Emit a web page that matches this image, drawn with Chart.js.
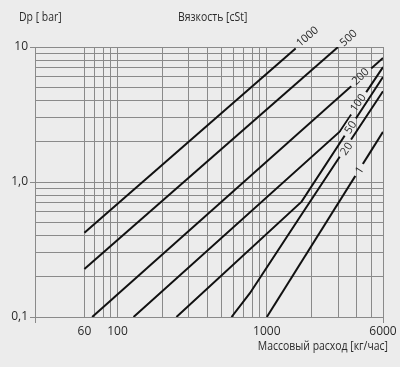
<!DOCTYPE html>
<html>
<head>
<meta charset="utf-8">
<script src="https://cdn.jsdelivr.net/npm/chart.js@4.4.0/dist/chart.umd.min.js"></script>
<style>
  html, body { margin: 0; padding: 0; background: #ececec; }
  #wrap { width: 400px; height: 367px; }
</style>
</head>
<body>
<div id="wrap"><canvas id="grafico" width="400" height="367"></canvas></div>
<script>
// Datos: caudal masico [kg/h] y caida de presion [bar] por viscosidad [cSt]
const viscosidades = ['1000', '500', '200', '100', '50', '20', '1'];

const caudal1000 = [60, 1600];
const dp1000 = [0.42, 10];
const caudal500 = [60, 3000];
const dp500 = [0.227, 10];
const caudal200 = [67.6, 6000];
const dp200 = [0.1, 8.3];
const caudal100 = [128, 3090, 6000];
const dp100 = [0.1, 2.37, 7.1];
const caudal50 = [248, 1710, 6000];
const dp50 = [0.1, 0.715, 6.0];
const caudal20 = [580, 770, 1670, 6000];
const dp20 = [0.1, 0.15, 0.553, 4.7];
const caudal1 = [1000, 6000];
const dp1 = [0.1, 2.35];

const ticksX = [28, 60, 70, 80, 90, 100, 200, 300, 400, 500, 600, 700, 800, 900, 1000, 2000, 3000, 4000, 5000, 6000];
const etiquetasX = { 60: '60', 100: '100', 1000: '1000', 6000: '6000' };
const ticksY = [0.1, 0.2, 0.3, 0.4, 0.5, 0.6, 0.7, 0.8, 0.9, 1, 2, 3, 4, 5, 6, 7, 8, 9, 10];
const etiquetasY = { 0.1: '0,1', 1: '1,0', 10: '10' };

const tituloY = 'Dp [ bar]';
const tituloLeyenda = 'Вязкость [cSt]';
const tituloX = 'Массовый расход [кг/час]';

const fondo = '#ececec';
const colorGrid = '#8a8a8a';
const colorTexto = '#2a2a2a';
const fuente = '"Open Sans", sans-serif';

function puntos(xs, ys) {
    return xs.map((x, i) => ({ x: x, y: ys[i] }));
}

const series = [
    puntos(caudal1000, dp1000),
    puntos(caudal500, dp500),
    puntos(caudal200, dp200),
    puntos(caudal100, dp100),
    puntos(caudal50, dp50),
    puntos(caudal20, dp20),
    puntos(caudal1, dp1)
];

// ubicacion de los rotulos de cada curva (valor x, valor y, angulo)
const rotulos = [
    { x: 1854, y: 12.06, ang: -40 },
    { x: 3497, y: 11.76, ang: -42 },
    { x: 4207, y: 6.1, ang: -43 },
    { x: 4049, y: 3.88, ang: -55 },
    { x: 3606, y: 2.56, ang: -57 },
    { x: 3388, y: 1.77, ang: -56 },
    { x: 4145, y: 1.23, ang: -58 }
];

function cajasRotulos(chart) {
    const ctx = chart.ctx;
    ctx.font = '11px ' + fuente;
    return rotulos.map((r, i) => {
        const texto = viscosidades[i];
        return {
            texto: texto,
            cx: chart.scales.x.getPixelForValue(r.x),
            cy: chart.scales.y.getPixelForValue(r.y),
            a: r.ang * Math.PI / 180,
            hw: ctx.measureText(texto).width / 2 + 4,
            hh: 5
        };
    });
}

// texto algo comprimido, la fuente original es mas angosta
function textoAngosto(ctx, texto, x, y, alineacion) {
    ctx.save();
    ctx.translate(x, y);
    ctx.scale(0.87, 1);
    ctx.textAlign = alineacion;
    ctx.fillText(texto, 0, 0);
    ctx.restore();
}

const pluginTextos = {
    id: 'textos',
    beforeDraw(chart) {
        const ctx = chart.ctx;
        ctx.save();
        ctx.fillStyle = fondo;
        ctx.fillRect(0, 0, chart.width, chart.height);
        ctx.restore();
    },
    beforeDatasetsDraw(chart) {
        // hueco en las curvas donde van los rotulos
        const ctx = chart.ctx;
        const cajas = cajasRotulos(chart);
        ctx.save();
        ctx.beginPath();
        ctx.rect(0, 0, chart.width, chart.height);
        cajas.forEach(c => {
            const cos = Math.cos(c.a), sin = Math.sin(c.a);
            const esquinas = [[-c.hw, -c.hh], [c.hw, -c.hh], [c.hw, c.hh], [-c.hw, c.hh]];
            esquinas.forEach((p, k) => {
                const px = c.cx + p[0] * cos - p[1] * sin;
                const py = c.cy + p[0] * sin + p[1] * cos;
                if (k === 0) ctx.moveTo(px, py); else ctx.lineTo(px, py);
            });
            ctx.closePath();
        });
        ctx.clip('evenodd');
    },
    afterDatasetsDraw(chart) {
        const ctx = chart.ctx;
        ctx.restore();
        const cajas = cajasRotulos(chart);
        ctx.save();
        ctx.fillStyle = colorTexto;
        ctx.font = '11px ' + fuente;
        ctx.textAlign = 'center';
        ctx.textBaseline = 'middle';
        cajas.forEach(c => {
            ctx.save();
            ctx.translate(c.cx, c.cy);
            ctx.rotate(c.a);
            ctx.fillText(c.texto, 0, 1);
            ctx.restore();
        });
        ctx.font = '12px ' + fuente;
        textoAngosto(ctx, tituloY, 19, 18, 'left');
        textoAngosto(ctx, tituloLeyenda, 178, 18, 'left');
        textoAngosto(ctx, tituloX, 388, 347, 'right');
        ctx.restore();
    }
};

const config = {
    type: 'line',
    data: {
        datasets: series.map((s, i) => ({
            label: viscosidades[i],
            data: s,
            borderColor: '#111111',
            borderWidth: 2,
            pointRadius: 0,
            tension: 0,
            fill: false
        }))
    },
    options: {
        responsive: false,
        animation: false,
        devicePixelRatio: 1,
        layout: { padding: { top: 47, right: 17, bottom: 0, left: 0 } },
        plugins: {
            legend: { display: false },
            tooltip: { enabled: false }
        },
        scales: {
            x: {
                type: 'logarithmic',
                min: 28,
                max: 6000,
                afterBuildTicks: (scale) => { scale.ticks = ticksX.map(v => ({ value: v })); },
                afterFit: (scale) => { scale.height = 50; },
                border: { display: false },
                grid: {
                    color: colorGrid,
                    lineWidth: 1,
                    tickLength: 6,
                    tickColor: (c) => (c.tick && (c.tick.value === 28 || c.tick.value === 6000)) ? colorGrid : 'rgba(0,0,0,0)'
                },
                ticks: {
                    autoSkip: false,
                    maxRotation: 0,
                    padding: 1,
                    color: colorTexto,
                    font: { family: fuente, size: 12 },
                    callback: (v) => etiquetasX[v] || ''
                }
            },
            y: {
                type: 'logarithmic',
                min: 0.1,
                max: 10,
                afterBuildTicks: (scale) => { scale.ticks = ticksY.map(v => ({ value: v })); },
                afterFit: (scale) => { scale.width = 35; },
                border: { display: false },
                grid: {
                    color: colorGrid,
                    lineWidth: 1,
                    tickLength: 5,
                    tickColor: (c) => (c.tick && etiquetasY[c.tick.value]) ? colorGrid : 'rgba(0,0,0,0)'
                },
                ticks: {
                    autoSkip: false,
                    padding: 2,
                    color: colorTexto,
                    font: { family: fuente, size: 12 },
                    callback: (v) => etiquetasY[v] || ''
                }
            }
        }
    },
    plugins: [pluginTextos]
};

new Chart(document.getElementById('grafico'), config);
</script>
</body>
</html>
